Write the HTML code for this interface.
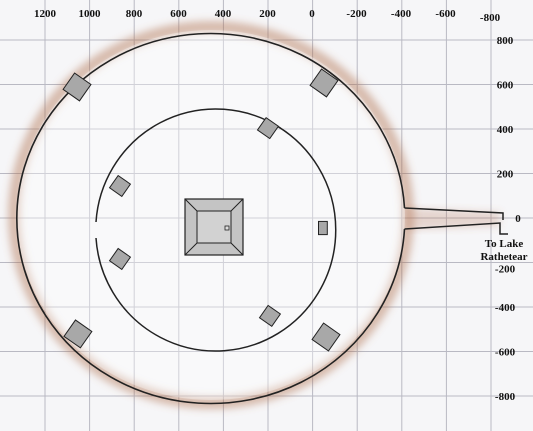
<!DOCTYPE html>
<html><head><meta charset="utf-8"><style>
html,body{margin:0;padding:0;background:#f6f6f8;width:533px;height:431px;overflow:hidden;}
svg{display:block;}
text{font-family:"Liberation Serif",serif;font-weight:bold;font-size:11px;fill:#111;}
</style></head><body>
<svg id="map" width="533" height="431" viewBox="0 0 533 431" xmlns="http://www.w3.org/2000/svg" overflow="hidden">
<defs><filter id="blur" x="-20%" y="-20%" width="140%" height="140%"><feGaussianBlur stdDeviation="4"/></filter></defs>
<rect width="533" height="431" fill="#f6f6f8"/>
<g id="grid"></g>
<ellipse cx="211" cy="215" rx="197" ry="188" fill="none" stroke="rgba(175,110,75,0.45)" stroke-width="12" filter="url(#blur)"/>
<path d="M405,208 L500,212 L500,226 L407,230 Z" fill="rgba(175,110,75,0.25)" filter="url(#blur)"/>
<ellipse cx="211" cy="215" rx="194" ry="185" fill="rgba(255,255,255,0.35)"/>
<path d="M404.5,208 A194,185 0 1 0 404.5,229" fill="none" stroke="#222" stroke-width="1.6"/>
<path d="M96,238 A120,121 0 1 0 96,222" fill="none" stroke="#222" stroke-width="1.5"/>
<path d="M404.5,208 L503,213 L503,220 M404.5,229 L500,223 L500,234 L508,234" fill="none" stroke="#222" stroke-width="1.5"/>
<g>
<rect x="185" y="199" width="58" height="56" fill="#c4c4c4" stroke="#222" stroke-width="1.2"/>
<rect x="197" y="211" width="34" height="32" fill="#d2d2d2" stroke="#222" stroke-width="1"/>
<path d="M185,199 L197,211 M243,199 L231,211 M185,255 L197,243 M243,255 L231,243" stroke="#222" stroke-width="1"/>
<rect x="225" y="226" width="4" height="4" fill="#ddd" stroke="#222" stroke-width="0.8"/>
</g>
<g id="towers"></g>
<g id="labels"></g>
<text x="504" y="247" text-anchor="middle" font-size="12">To Lake</text>
<text x="504" y="260" text-anchor="middle" font-size="12">Rathetear</text>
</svg>
<script>
const xTicks=[1200,1000,800,600,400,200,0,-200,-400,-600,-800];
const yTicks=[800,600,400,200,0,-200,-400,-600,-800];
const towerX=[1056,-54,198,863,-49,863,189,1052,-63];
const towerY=[589,607,404,144,-45,-184,-440,-521,-535];
const towerSize=[20,20,15,15,11,15,15,20,20];
const towerAngle=[35,35,35,35,0,35,35,35,35];
const ns="http://www.w3.org/2000/svg";
function sx(v){return 312-v*0.2225;}
function sy(v){return 218-v*0.2225;}
const grid=document.getElementById('grid');
for(let i=0;i<12;i++){
  const x=sx(1200)+ (i)*44.6;
  if(x<0||x>533) continue;
  const l=document.createElementNS(ns,'line');
  l.setAttribute('x1',x);l.setAttribute('x2',x);l.setAttribute('y1',0);l.setAttribute('y2',431);
  l.setAttribute('stroke','#b9b9c3');l.setAttribute('stroke-width','1');
  
  
  grid.appendChild(l);
}
for(let i=0;i<9;i++){
  const y=sy(800)+i*44.5;
  if(y<0||y>431) continue;
  const l=document.createElementNS(ns,'line');
  l.setAttribute('x1',0);l.setAttribute('x2',533);l.setAttribute('y1',y);l.setAttribute('y2',y);
  l.setAttribute('stroke','#b9b9c3');l.setAttribute('stroke-width','1');
  
  
  grid.appendChild(l);
}
const labels=document.getElementById('labels');
xTicks.forEach((v,i)=>{
  const t=document.createElementNS(ns,'text');
  t.setAttribute('x',sx(v));t.setAttribute('y',v===-800?21:17);t.setAttribute('text-anchor','middle');
  t.textContent=v;
  
  
  labels.appendChild(t);
});
yTicks.forEach(v=>{
  const t=document.createElementNS(ns,'text');
  t.setAttribute('x',505);t.setAttribute('y',sy(v)+4+(v===-200?6:0));t.setAttribute('text-anchor','middle');
  if(v===0){t.setAttribute('x',518);}
  t.textContent=v;
  
  
  labels.appendChild(t);
});
const towers=document.getElementById('towers');
towerX.forEach((v,i)=>{
  const s=towerSize[i],cx=sx(v),cy=sy(towerY[i]);
  const r=document.createElementNS(ns,'rect');
  const w=towerAngle[i]===0?s*0.8:s, h=towerAngle[i]===0?s*1.2:s;
  r.setAttribute('x',cx-w/2);r.setAttribute('y',cy-h/2);r.setAttribute('width',w);r.setAttribute('height',h);
  r.setAttribute('fill','#a8a8a8');r.setAttribute('stroke','#222');r.setAttribute('stroke-width','1');
  r.setAttribute('transform','rotate('+towerAngle[i]+' '+cx+' '+cy+')');
  
  
  towers.appendChild(r);
});
</script>
</body></html>
